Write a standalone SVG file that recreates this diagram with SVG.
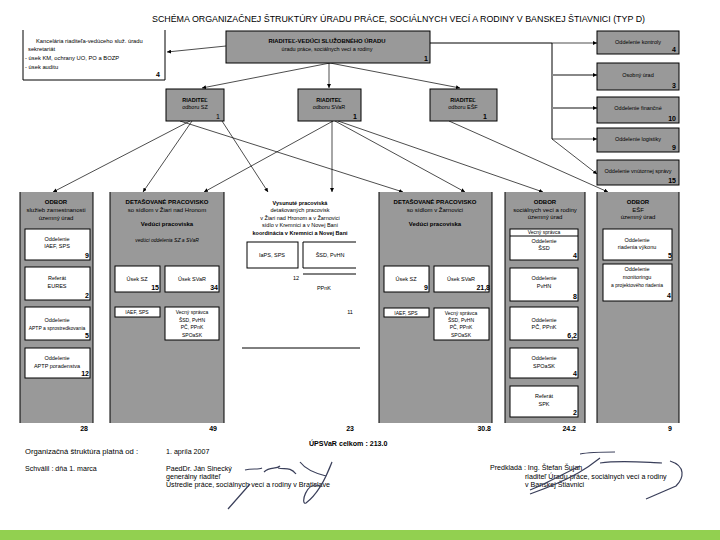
<svg xmlns="http://www.w3.org/2000/svg" width="720" height="540" viewBox="0 0 720 540">
<style>
text{font-family:"Liberation Sans",Arial,sans-serif;fill:#000}
.t{font-size:5.5px;text-anchor:middle}
.h{font-size:6px;text-anchor:middle}
.s{font-size:5px;text-anchor:middle}
.k{font-size:5.8px}
.b{font-weight:bold}
.n{font-size:7px;font-weight:bold;text-anchor:end}
.f{font-size:7.1px}
.g{fill:#999;stroke:#000;stroke-width:1}
.col{fill:#999;stroke:none}
.w{fill:#fff;stroke:#000;stroke-width:1}
.ln{stroke:#000;stroke-width:1;fill:none}
.c{stroke:#000;stroke-width:0.7;fill:none;marker-end:url(#ah)}
.cg{stroke:#888;stroke-width:2;fill:none;marker-end:url(#ah)}
</style>
<defs>
<marker id="ah" viewBox="0 0 6 6" refX="6" refY="3" markerWidth="4" markerHeight="4" markerUnits="userSpaceOnUse" orient="auto"><path d="M0,0L6,3L0,6z" fill="#000"/></marker>
</defs>
<rect width="720" height="540" fill="#fff"/>
<text x="152" y="22" font-size="9.5" textLength="493" lengthAdjust="spacingAndGlyphs">SCHÉMA ORGANIZAČNEJ ŠTRUKTÚRY ÚRADU PRÁCE, SOCIÁLNYCH VECÍ A RODINY V BANSKEJ ŠTIAVNICI (TYP D)</text>

<g id="connectors">
<line class="c" x1="226" y1="46" x2="167" y2="52"/>
<line class="c" x1="330" y1="63" x2="202" y2="88"/>
<line class="c" x1="329" y1="63" x2="329" y2="88"/>
<line class="c" x1="330" y1="63" x2="460" y2="88"/>
<line class="ln" x1="430" y1="43" x2="552" y2="43"/>
<line class="c" x1="552" y1="43" x2="597" y2="43"/>
<line class="ln" x1="552" y1="43" x2="552" y2="139"/>
<line class="cg" x1="552" y1="75" x2="597" y2="75"/>
<line class="cg" x1="552" y1="108" x2="597" y2="108"/>
<line class="c" x1="552" y1="139" x2="597" y2="139"/>
<line class="c" x1="552" y1="139" x2="597" y2="174"/>
<line class="c" x1="190" y1="121" x2="53" y2="192"/>
<line class="c" x1="192" y1="121" x2="143" y2="192"/>
<line class="c" x1="222" y1="121" x2="268" y2="192"/>
<line class="c" x1="180" y1="121" x2="403" y2="192"/>
<line class="c" x1="333" y1="121" x2="204" y2="192"/>
<line class="c" x1="332" y1="121" x2="332" y2="192"/>
<line class="c" x1="335" y1="121" x2="465" y2="192"/>
<line class="c" x1="338" y1="121" x2="543" y2="192"/>
<line class="c" x1="449" y1="121" x2="608" y2="192"/>
<line class="c" x1="138" y1="292" x2="138" y2="307"/>
<line class="c" x1="187" y1="292" x2="187" y2="307"/>
<line class="c" x1="408" y1="292" x2="408" y2="307"/>
<line class="c" x1="457" y1="292" x2="457" y2="307"/>
<line class="c" x1="544" y1="378" x2="544" y2="386"/>
</g>

<g id="kancelaria">
<path class="ln" d="M23,30V80H165V30"/>
<text x="36" y="43" class="k">Kancelária riaditeľa-vedúceho služ. úradu</text>
<text x="28" y="51" class="k">sekretariát</text>
<text x="25" y="60" class="k">- úsek KM, ochrany UO, PO a BOZP</text>
<text x="25" y="69" class="k">- úsek auditu</text>
<text x="160" y="77" class="n">4</text>
</g>

<g id="riaditel">
<rect class="g" x="226" y="31" width="204" height="32"/>
<text x="327" y="43" class="b" font-size="5.9" text-anchor="middle">RIADITEĽ-VEDÚCI SLUŽOBNÉHO ÚRADU</text>
<text x="327" y="51" class="t">úradu práce, sociálnych vecí a rodiny</text>
<text x="428" y="61" class="n">1</text>
</g>

<g id="kontroly"><rect class="g" x="597" y="31" width="82" height="23"/><text x="638" y="44" class="t">Oddelenie kontroly</text><text x="676" y="52" class="n">4</text></g>
<g id="osobny"><rect class="g" x="597" y="63" width="82" height="27"/><text x="638" y="77" class="t">Osobný úrad</text><text x="676" y="88" class="n">3</text></g>
<g id="financne"><rect class="g" x="597" y="97" width="82" height="26"/><text x="638" y="110" class="t">Oddelenie finančné</text><text x="676" y="121" class="n">10</text></g>
<g id="logistiky"><rect class="g" x="597" y="128" width="82" height="24"/><text x="638" y="141" class="t">Oddelenie logistiky</text><text x="676" y="150" class="n">9</text></g>
<g id="spravy"><rect class="g" x="597" y="160" width="82" height="25"/><text x="638" y="173" class="t">Oddelenie vnútornej správy</text><text x="676" y="183" class="n">15</text></g>

<g id="riaditel-sz"><rect class="g" x="166" y="89" width="58" height="32"/><text x="195" y="102" class="t b">RIADITEĽ</text><text x="195" y="109" class="t">odboru SZ</text><text x="220" y="119" class="n" style="font-weight:normal">1</text></g>
<g id="riaditel-svar"><rect class="g" x="298" y="89" width="63" height="32"/><text x="329" y="102" class="t b">RIADITEĽ</text><text x="329" y="109" class="t">odboru SVaR</text><text x="357" y="119" class="n">1</text></g>
<g id="riaditel-esf"><rect class="g" x="430" y="89" width="67" height="32"/><text x="463" y="102" class="t b">RIADITEĽ</text><text x="463" y="109" class="t">odboru EŠF</text><text x="487" y="119" class="n">1</text></g>

<g id="odbor-sz">
<rect class="col" x="20" y="192" width="73" height="231"/>
<path class="ln" d="M20,192V423M93,192V423"/>
<text x="56" y="204" class="h b">ODBOR</text>
<text x="56" y="212" class="h">služieb zamestnanosti</text>
<text x="56" y="220" class="h">územný úrad</text>
<rect class="w" x="25" y="229" width="65" height="31"/>
<text x="57" y="241" class="t">Oddelenie</text><text x="57" y="248" class="t">IAEF, SPS</text><text x="89" y="258" class="n">9</text>
<rect class="w" x="25" y="267" width="65" height="33"/>
<text x="57" y="280" class="t">Referát</text><text x="57" y="288" class="t">EURES</text><text x="89" y="298" class="n">2</text>
<rect class="w" x="25" y="307" width="65" height="33"/>
<text x="57" y="322" class="t">Oddelenie</text><text x="57" y="330" class="s">APTP a sprostredkovania</text><text x="89" y="338" class="n">5</text>
<rect class="w" x="25" y="348" width="65" height="30"/>
<text x="57" y="360" class="t">Oddelenie</text><text x="57" y="368" class="t">APTP poradenstva</text><text x="89" y="376" class="n">12</text>
<text x="88" y="431" class="n">28</text>
</g>

<g id="dp-ziar">
<rect class="col" x="110" y="192" width="114" height="231"/>
<path class="ln" d="M110,192V423M224,192V423"/>
<text x="167" y="204" class="h b">DETAŠOVANÉ PRACOVISKO</text>
<text x="167" y="212" class="h">so sídlom v Žiari nad Hronom</text>
<text x="167" y="226" class="h b">Vedúci pracoviska</text>
<text x="167" y="242" class="s" font-style="italic">vedúci oddelenia SZ a SVaR</text>
<rect class="w" x="115" y="266" width="45" height="26"/>
<text x="137" y="281" class="t">Úsek SZ</text><text x="159" y="290" class="n">15</text>
<rect class="w" x="165" y="266" width="54" height="26"/>
<text x="192" y="281" class="t">Úsek SVaR</text><text x="218" y="290" class="n">34</text>
<rect class="w" x="115" y="307" width="45" height="10"/>
<text x="137" y="314" class="s">IAEF, SPS</text>
<rect class="w" x="165" y="307" width="54" height="33"/>
<text x="192" y="314" class="s">Vecný správca</text><text x="192" y="322" class="s">ŠSD, PvHN</text><text x="192" y="329" class="s">PČ, PPnK</text><text x="192" y="337" class="s">SPOaSK</text>
<text x="217" y="431" class="n">49</text>
</g>

<g id="vysunute">
<text x="300" y="205" class="t b">Vysunuté pracoviská</text>
<text x="300" y="212" class="t">detašovaných pracovísk</text>
<text x="300" y="220" class="t">v Žiari nad Hronom a v Žarnovici</text>
<text x="300" y="227" class="t">sídlo v Kremnici a v Novej Bani</text>
<text x="300" y="235" class="t b">koordinácia v Kremnici a Novej Bani</text>
<rect class="w" x="247" y="242" width="51" height="26"/>
<text x="272" y="257" class="t">IaPS, SPS</text>
<path class="ln" d="M356,242H303V268H356"/>
<text x="330" y="257" class="t">ŠSD, PvHN</text>
<text x="296" y="280" class="t">12</text>
<line class="ln" x1="303" y1="274" x2="356" y2="274"/>
<text x="324" y="290" class="t">PPnK</text>
<text x="350" y="314" class="t">11</text>
<line class="ln" x1="242" y1="348" x2="360" y2="348"/>
<text x="354" y="431" class="n">23</text>
</g>

<g id="dp-zarnovica">
<rect class="col" x="379" y="192" width="113" height="231"/>
<path class="ln" d="M379,192V423M492,192V423"/>
<text x="435" y="204" class="h b">DETAŠOVANÉ PRACOVISKO</text>
<text x="435" y="212" class="h">so sídlom v Žarnovici</text>
<text x="435" y="226" class="h b">Vedúci pracoviska</text>
<rect class="w" x="384" y="266" width="45" height="26"/>
<text x="406" y="281" class="t">Úsek SZ</text><text x="428" y="290" class="n">9</text>
<rect class="w" x="434" y="266" width="55" height="26"/>
<text x="461" y="281" class="t">Úsek SVaR</text><text x="490" y="290" class="n">21,8</text>
<rect class="w" x="384" y="308" width="45" height="9"/>
<text x="406" y="314.5" class="s">IAEF, SPS</text>
<rect class="w" x="434" y="308" width="55" height="32"/>
<text x="461" y="315" class="s">Vecný správca</text><text x="461" y="322" class="s">ŠSD, PvHN</text><text x="461" y="329" class="s">PČ, PPnK</text><text x="461" y="337" class="s">SPOaSK</text>
<text x="491" y="431" class="n">30.8</text>
</g>

<g id="odbor-svar">
<rect class="col" x="505" y="192" width="80" height="231"/>
<path class="ln" d="M505,192V423M585,192V423"/>
<text x="545" y="204" class="h b">ODBOR</text>
<text x="545" y="212" class="h">sociálnych vecí a rodiny</text>
<text x="545" y="219" class="h">územný úrad</text>
<rect class="w" x="510" y="229" width="68" height="31"/>
<line class="ln" x1="510" y1="236" x2="578" y2="236"/>
<text x="544" y="234" class="s">Vecný správca</text>
<text x="544" y="243" class="t">Oddelenie</text><text x="544" y="250" class="t">ŠSD</text><text x="577" y="258" class="n">4</text>
<rect class="w" x="510" y="268" width="68" height="33"/>
<text x="544" y="280" class="t">Oddelenie</text><text x="544" y="288" class="t">PvHN</text><text x="577" y="299" class="n">8</text>
<rect class="w" x="510" y="307" width="68" height="33"/>
<text x="544" y="322" class="t">Oddelenie</text><text x="544" y="329" class="t">PČ, PPnK</text><text x="577" y="338" class="n">6,2</text>
<rect class="w" x="510" y="348" width="68" height="30"/>
<text x="544" y="360" class="t">Oddelenie</text><text x="544" y="368" class="t">SPOaSK</text><text x="577" y="376" class="n">4</text>
<rect class="w" x="510" y="386" width="68" height="31"/>
<text x="544" y="398" class="t">Referát</text><text x="544" y="406" class="t">SPK</text><text x="577" y="415" class="n">2</text>
<text x="576" y="431" class="n">24.2</text>
</g>

<g id="odbor-esf">
<rect class="col" x="597" y="192" width="82" height="231"/>
<path class="ln" d="M597,192V423M679,192V423"/>
<text x="638" y="204" class="h b">ODBOR</text>
<text x="638" y="212" class="h">EŠF</text>
<text x="638" y="219" class="h">územný úrad</text>
<rect class="w" x="603" y="229" width="69" height="31"/>
<text x="637" y="242" class="t">Oddelenie</text><text x="637" y="249" class="t">riadenia výkonu</text><text x="672" y="258" class="n">5</text>
<rect class="w" x="603" y="264" width="69" height="37"/>
<text x="637" y="271" class="t">Oddelenie</text><text x="637" y="279" class="t">monitoringu</text><text x="637" y="287" class="s">a projektového riadenia</text><text x="671" y="298" class="n">4</text>
<text x="672" y="431" class="n">9</text>
</g>

<g id="footer">
<text x="309" y="446" class="f b">ÚPSVaR celkom : 213.0</text>
<text x="25" y="454" class="f" textLength="113" lengthAdjust="spacingAndGlyphs">Organizačná štruktúra platná od :</text>
<text x="166" y="454" class="f">1. apríla 2007</text>
<text x="25" y="471" class="f">Schválil : dňa 1. marca</text>
<text x="166" y="471" class="f">PaedDr. Ján Sinecký</text>
<text x="166" y="479" class="f">generálny riaditeľ</text>
<text x="166" y="487" class="f">Ústredie práce, sociálnych vecí a rodiny v Bratislave</text>
<text x="490" y="470" class="f">Predkladá : Ing. Štefan Šujan</text>
<text x="525" y="479" class="f">riaditeľ Úradu práce, sociálnych vecí a rodiny</text>
<text x="525" y="487" class="f">v Banskej Štiavnici</text>
<path d="M228,509L250,484M245,470C252,468 258,470 262,468M264,472C270,466 276,470 280,466M278,468C284,470 290,466 296,474M300,462C306,470 318,474 326,476L332,462M332,462C326,478 318,494 306,503C300,506 306,480 320,486" fill="none" stroke="#3a3f5a" stroke-width="1.2"/>
<path d="M580,454C590,452 600,452 615,452M600,458C590,466 575,478 530,494M600,463C620,460 640,462 662,463M670,461C686,466 684,478 676,486L646,499M530,490C545,484 555,478 580,466" fill="none" stroke="#3a3f5a" stroke-width="1.2"/>
</g>
<rect x="0" y="530" width="720" height="10" fill="#92d050"/>
</svg>
